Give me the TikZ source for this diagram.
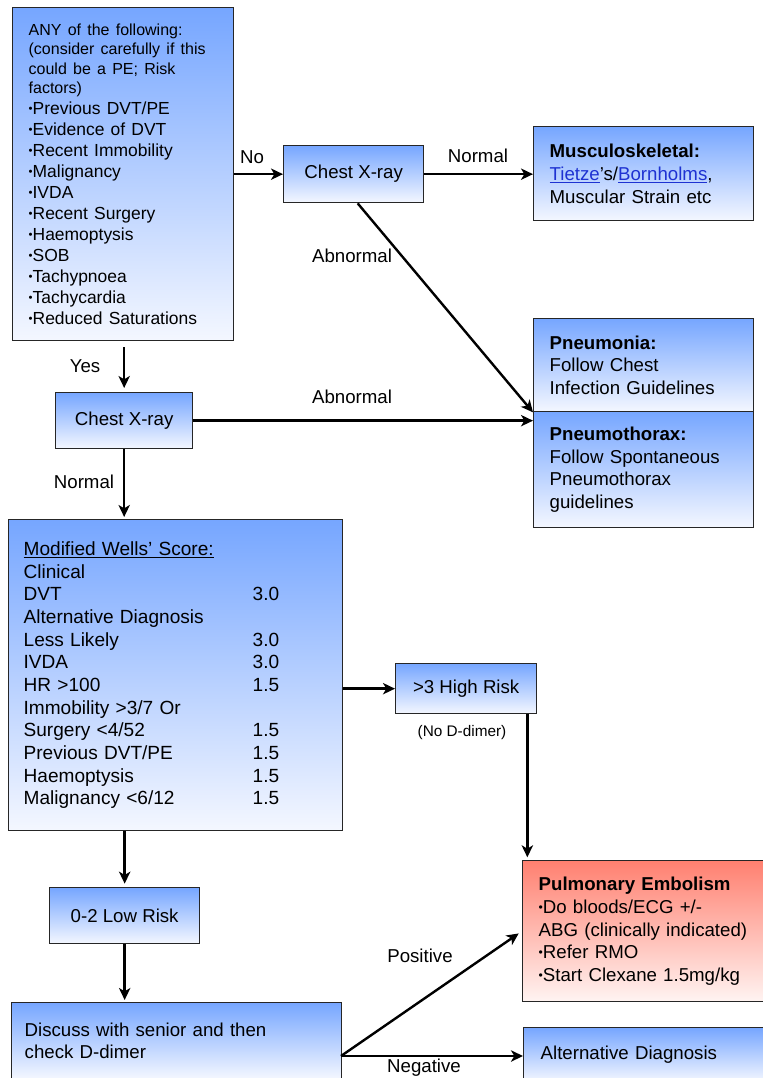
\documentclass[tikz,border=0pt]{standalone}
\usepackage{fontspec}
\setmainfont{Liberation Sans}
\usetikzlibrary{arrows.meta}
\definecolor{bluetop}{RGB}{118,166,255}
\definecolor{bluebot}{RGB}{244,247,255}
\definecolor{redtop}{RGB}{255,128,112}
\definecolor{redbot}{RGB}{255,244,242}
\definecolor{linkblue}{RGB}{30,50,210}
\newcommand\bul{\raisebox{0.12em}{\scalebox{0.65}{•}}}
\newcommand\wl[1]{\makebox[171.75pt][l]{#1}}
\begin{document}
\begin{tikzpicture}[x=0.75pt,y=-0.75pt,
  box/.style={draw=black!85, line width=1pt, top color=bluetop, bottom color=bluebot,
    anchor=north west, inner xsep=0pt, inner ysep=0pt, align=left,
    font=\fontsize{14}{17}\selectfont},
  cbox/.style={box, align=center},
  redbox/.style={box, top color=redtop, bottom color=redbot},
  arr/.style={-{Stealth[length=9pt,width=8.5pt,inset=2.5pt]}, line width=1.8pt},
  lbl/.style={font=\fontsize{14}{17}\selectfont, inner sep=0pt}]
\path[use as bounding box, clip] (0,0) rectangle (763,1078);

% boxes
\node[box, minimum width=165.75pt, minimum height=249.75pt, text width=165.75pt] (risk) at (12,7)
 {\leftskip=12pt\relax
  {\fontsize{12}{14.6}\selectfont ANY of the following:\\(consider carefully if this\\could be a PE; Risk\\factors)\par}
  \fontsize{13.1}{15.75}\selectfont
  \bul Previous DVT/PE\\\bul Evidence of DVT\\\bul Recent Immobility\\\bul Malignancy\\\bul IVDA\\
  \bul Recent Surgery\\\bul Haemoptysis\\\bul SOB\\\bul Tachypnoea\\\bul Tachycardia\\\bul Reduced Saturations\par};

\node[cbox, minimum width=105pt, minimum height=42.75pt] (cxr1) at (283,145) {Chest X-ray};

\node[box, minimum width=165pt, minimum height=70.5pt, text width=165pt] (musc) at (533,126)
 {\leftskip=12pt\relax\textbf{Musculoskeletal:}\\
  \textcolor{linkblue}{\underline{Tietze}}’s/\textcolor{linkblue}{\underline{Bornholms}},\\
  Muscular Strain etc\par};

\node[box, minimum width=165pt, minimum height=69.75pt, text width=165pt] (pneu) at (533,318)
 {\leftskip=12pt\relax\textbf{Pneumonia:}\\Follow Chest\\Infection Guidelines\par};
\node[box, minimum width=165pt, minimum height=87pt, text width=165pt] (thorax) at (533,411)
 {\leftskip=12pt\relax\textbf{Pneumothorax:}\\Follow Spontaneous\\Pneumothorax\\guidelines\par};

\node[cbox, minimum width=102.75pt, minimum height=42pt] (cxr2) at (55,392) {Chest X-ray};

\node[box, minimum width=250.5pt, minimum height=233.25pt, text width=250.5pt] (wells) at (8,519)
 {\leftskip=11.25pt\relax\fontsize{14.3}{17}\selectfont
  \underline{Modified Wells’ Score:}\\
  Clinical\\
  \wl{DVT}3.0\\
  Alternative Diagnosis\\
  \wl{Less Likely}3.0\\
  \wl{IVDA}3.0\\
  \wl{HR >100}1.5\\
  Immobility >3/7 Or\\
  \wl{Surgery <4/52}1.5\\
  \wl{Previous DVT/PE}1.5\\
  \wl{Haemoptysis}1.5\\
  \wl{Malignancy <6/12}1.5\\[6pt]\par};

\node[cbox, minimum width=105.75pt, minimum height=37.5pt] (high) at (395,663) {>3 High Risk};

\node[redbox, minimum width=180.75pt, minimum height=105.75pt, text width=180.75pt] (pe) at (522,860)
 {\leftskip=12pt\relax\textbf{Pulmonary Embolism}\\
  \bul Do bloods/ECG +/-\\
  ABG (clinically indicated)\\
  \bul Refer RMO\\
  \bul Start Clexane 1.5mg/kg\par};

\node[cbox, minimum width=112.5pt, minimum height=42pt] (low) at (49,887) {0-2 Low Risk};

\node[box, minimum width=247.5pt, minimum height=57pt, text width=247.5pt] (discuss) at (11,1002)
 {\leftskip=9.75pt\relax Discuss with senior and then\\check D-dimer\par};

\node[box, minimum width=185.25pt, minimum height=40.5pt, text width=185.25pt] (alt) at (523,1027)
 {\leftskip=12.75pt\relax Alternative Diagnosis\par};

% connectors
\draw[arr] (risk.east |- cxr1.west) -- (cxr1.west);
\draw[arr] (cxr1.east) -- (musc.west |- cxr1.east);
\draw[arr] ([xshift=3pt]cxr1.south) -- (pneu.south west);
\draw[arr] (cxr2.east) -- (thorax.west |- cxr2.east);
\draw[arr, shorten <=4.5pt, shorten >=3pt] (risk.south -| cxr2.north) -- (cxr2.north);
\draw[arr, shorten >=1.5pt] (cxr2.south) -- (cxr2.south |- wells.north);
\draw[arr] (wells.east |- high.west) -- (high.west);
\coordinate (hs) at ([xshift=-7.5pt]high.south east);
\draw[arr, shorten >=2pt] (hs) -- (hs |- pe.north);
\draw[arr, shorten >=2.5pt] (wells.south -| low.north) -- (low.north);
\draw[arr, shorten >=1.5pt] (low.south) -- (low.south |- discuss.north);
\coordinate (dd) at (341,1056);
\draw[arr, shorten >=3pt] (dd) -- (pe.west);
\draw[arr] (dd) -- (alt.west |- dd);

% labels
\node[lbl] (lno) at (252,157) {No};
\node[lbl] (lnorm1) at (478,156) {Normal};
\node[lbl] (labn1) at (352,256) {Abnormal};
\node[lbl] (labn2) at (352,397) {Abnormal};
\node[lbl] (lyes) at (85,366) {Yes};
\node[lbl] (lnorm2) at (84,482) {Normal};
\node[lbl, font=\fontsize{11.5}{14}\selectfont] (lnod) at (462,733) {(No D-dimer)};
\node[lbl] (lpos) at (420,956) {Positive};
\node[lbl] (lneg) at (424,1068) {Negative};
\end{tikzpicture}
\end{document}
